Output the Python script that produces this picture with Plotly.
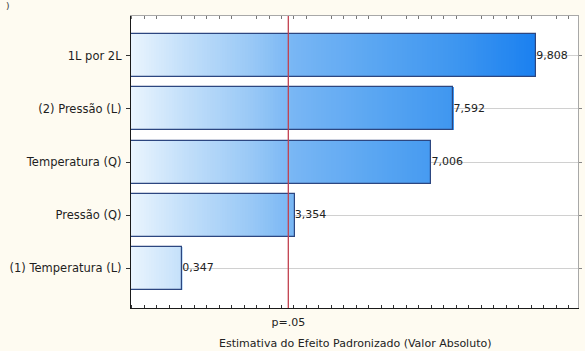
import plotly.graph_objects as go

# Pareto of standardized effects (absolute value)
factors = ["(1) Temperatura (L)", "Pressão (Q)", "Temperatura (Q)", "(2) Pressão (L)", "1L por 2L"]
effects = [0.347, 3.354, 7.006, 7.592, 9.808]
value_labels = ["0,347", "3,354", "7,006", "7,592", "9,808"]
p_limit = 3.182
p_label = "p=.05"
x_title = "Estimativa do Efeito Padronizado (Valor Absoluto)"

X_MIN, X_MAX = -1.02, 10.92
Y_MIN, Y_MAX = -0.747, 4.75
BAR_W = 0.81

# colour ramp along the x axis (fraction of the longest bar) -> rgb
ramp = [
    (0.00, (234, 244, 254)),
    (0.12, (198, 225, 250)),
    (0.30, (152, 200, 246)),
    (0.40, (120, 182, 244)),
    (0.60, (90, 166, 242)),
    (0.80, (62, 150, 240)),
    (1.00, (26, 128, 240)),
]


def ramp_color(u):
    u = min(max(u, 0.0), 1.0)
    for (u0, c0), (u1, c1) in zip(ramp[:-1], ramp[1:]):
        if u <= u1:
            t = (u - u0) / (u1 - u0)
            rgb = [round(a + (b - a) * t) for a, b in zip(c0, c1)]
            return "rgb({},{},{})".format(*rgb)
    return "rgb({},{},{})".format(*ramp[-1][1])


fig = go.Figure()

# gradient fill: each bar is split into thin strips coloured by position
n_strips = 160
top = max(effects)
step = (top - X_MIN) / n_strips
for k in range(n_strips):
    lo = X_MIN + k * step
    hi = lo + step
    ys, bases, lens = [], [], []
    for f, v in zip(factors, effects):
        if v > lo:
            ys.append(f)
            bases.append(lo)
            lens.append(min(hi + step * 0.35, v) - lo)
    if not ys:
        continue
    u = (lo + step / 2 - X_MIN) / (top - X_MIN)
    fig.add_trace(go.Bar(
        y=ys, x=lens, base=bases, orientation="h", width=BAR_W,
        marker=dict(color=ramp_color(u), line=dict(width=0)),
        hoverinfo="skip", showlegend=False,
    ))

# bar outlines
fig.add_trace(go.Bar(
    y=factors, x=[v - X_MIN for v in effects], base=[X_MIN] * len(effects),
    orientation="h", width=BAR_W,
    marker=dict(color="rgba(0,0,0,0)", line=dict(color="#2c4680", width=1.2)),
    showlegend=False,
))

# value labels next to the bars
fig.add_trace(go.Scatter(
    y=factors, x=effects, mode="text", text=value_labels,
    textposition="middle right",
    textfont=dict(family="DejaVu Sans", size=11, color="#222222"),
    showlegend=False, hoverinfo="skip",
))

# helper trace so the mirrored top/right axes are drawn
fig.add_trace(go.Scatter(
    x=[X_MIN], y=[factors[0]], xaxis="x2", yaxis="y2", mode="markers",
    marker=dict(opacity=0), showlegend=False, hoverinfo="skip",
))

# significance limit
fig.add_shape(type="line", x0=p_limit, x1=p_limit, y0=0, y1=1,
              xref="x", yref="paper", line=dict(color="#c2404e", width=1.3))

fig.update_layout(
    width=585, height=351,
    margin=dict(l=131, r=4, t=16, b=43),
    paper_bgcolor="#fefbf1",
    plot_bgcolor="#ffffff",
    barmode="overlay",
    bargap=0,
    font=dict(family="DejaVu Sans", size=11, color="#1e1e1e"),
    xaxis=dict(
        range=[X_MIN, X_MAX], showgrid=False, zeroline=False,
        showline=True, linecolor="#1a1a1a", linewidth=1.3,
        tickmode="array", tickvals=[p_limit], ticktext=[p_label],
        ticks="", ticklabelstandoff=4,
        tickfont=dict(size=11, color="#222222"),
        minor=dict(ticks="inside", tick0=-1, dtick=1 / 3, ticklen=3,
                   tickcolor="#333333", showgrid=False),
    ),
    xaxis2=dict(
        overlaying="x", side="top", matches="x", range=[X_MIN, X_MAX],
        showgrid=False, zeroline=False, showticklabels=False,
        showline=True, linecolor="#a8a8a8", linewidth=1,
        ticks="", minor=dict(ticks="inside", tick0=-1, dtick=1 / 3, ticklen=3,
                             tickcolor="#777777", showgrid=False),
    ),
    yaxis=dict(
        type="category", categoryorder="array", categoryarray=factors,
        range=[Y_MIN, Y_MAX], showgrid=True, gridcolor="#d0d0d0", gridwidth=1,
        zeroline=False, showline=True, linecolor="#1a1a1a", linewidth=1.3,
        ticks="outside", ticklen=4, tickcolor="#333333",
        tickfont=dict(size=11.5, color="#1e1e1e"), ticklabelstandoff=2,
    ),
    yaxis2=dict(
        type="category", categoryorder="array", categoryarray=factors,
        overlaying="y", side="right", matches="y", range=[Y_MIN, Y_MAX],
        showgrid=False, zeroline=False, showticklabels=False,
        showline=True, linecolor="#a8a8a8", linewidth=1,
        ticks="outside", ticklen=3, tickcolor="#888888",
    ),
    annotations=[
        dict(text=x_title, xref="paper", yref="paper", x=0.5, y=-0.121,
             xanchor="center", yanchor="middle", showarrow=False,
             font=dict(family="DejaVu Sans", size=11, color="#222222")),
        dict(text=")", xref="paper", yref="paper", x=-0.283, y=1.035,
             xanchor="left", yanchor="middle", showarrow=False,
             font=dict(family="DejaVu Sans", size=9, color="#333333")),
    ],
)

fig.write_html("out.html")
